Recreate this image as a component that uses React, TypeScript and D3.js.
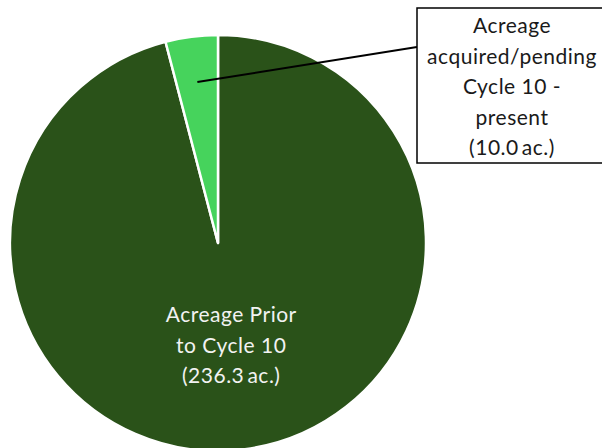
import * as d3 from 'd3';
import React, { useRef, useEffect } from 'react';

const labels = ['Acreage Prior to Cycle 10', 'Acreage acquired/pending Cycle 10 - present'];
const acres = [236.3, 10.0];
const colors = ['#2a5219', '#46d35c'];
// label text lines as drawn on the chart
const bigLines = ['Acreage Prior', 'to Cycle 10', '(236.3\u2009ac.)'];
const smallLines = ['Acreage', 'acquired/pending', 'Cycle 10 -', 'present', '(10.0\u2009ac.)'];

function App() {
    const ref = useRef<SVGSVGElement>(null);
    const width = 602, height = 448;

    useEffect(() => {
        const svg = d3.select(ref.current);
        svg.selectAll('*').remove();

        const cx = 218, cy = 243, r = 208;
        const font = 'Lato, "Open Sans", sans-serif';

        const pie = d3.pie<number>().sort(null).value(d => d);
        const arcs = pie(acres);
        const arc = d3.arc<d3.PieArcDatum<number>>().innerRadius(0).outerRadius(r);
        const leaderArc = d3.arc<d3.PieArcDatum<number>>().innerRadius(r * 0.78).outerRadius(r * 0.78);

        const g = svg.append('g').attr('transform', `translate(${cx},${cy})`);

        g.selectAll('path.slice')
            .data(arcs)
            .enter().append('path')
            .attr('class', 'slice')
            .attr('d', arc as any)
            .attr('fill', (d, i) => colors[i])
            .attr('stroke', '#ffffff')
            .attr('stroke-width', 2.5)
            .attr('stroke-linejoin', 'round');

        // big slice label (inside)
        const [bx, by] = arc.centroid(arcs[0]);
        const bt = g.append('text')
            .attr('text-anchor', 'middle')
            .attr('font-family', font)
            .attr('font-size', 21)
            .attr('letter-spacing', 0.5)
            .attr('fill', '#f2f2f2');
        bigLines.forEach((t, i) => {
            bt.append('tspan')
                .attr('x', bx)
                .attr('y', by - 24 + i * 30.5)
                .text(t);
        });

        // callout for small slice
        const [lx, ly] = leaderArc.centroid(arcs[1]);
        const boxX = 417, boxY = 8, boxW = 200, boxH = 155;
        svg.append('line')
            .attr('x1', cx + lx).attr('y1', cy + ly)
            .attr('x2', boxX).attr('y2', 47)
            .attr('stroke', '#000')
            .attr('stroke-width', 2);
        svg.append('rect')
            .attr('x', boxX).attr('y', boxY)
            .attr('width', boxW).attr('height', boxH)
            .attr('fill', '#fff')
            .attr('stroke', '#000')
            .attr('stroke-width', 1.5);
        const st = svg.append('text')
            .attr('text-anchor', 'middle')
            .attr('font-family', font)
            .attr('font-size', 21)
            .attr('letter-spacing', 0.5)
            .attr('fill', '#1a1a1a');
        smallLines.forEach((t, i) => {
            st.append('tspan')
                .attr('x', 512)
                .attr('y', 33 + i * 30.5)
                .text(t);
        });
    }, []);

    return (
        <svg ref={ref} width={width} height={height}
            style={{ position: 'absolute', left: 0, top: 0 }} />
    );
}

export default App;
